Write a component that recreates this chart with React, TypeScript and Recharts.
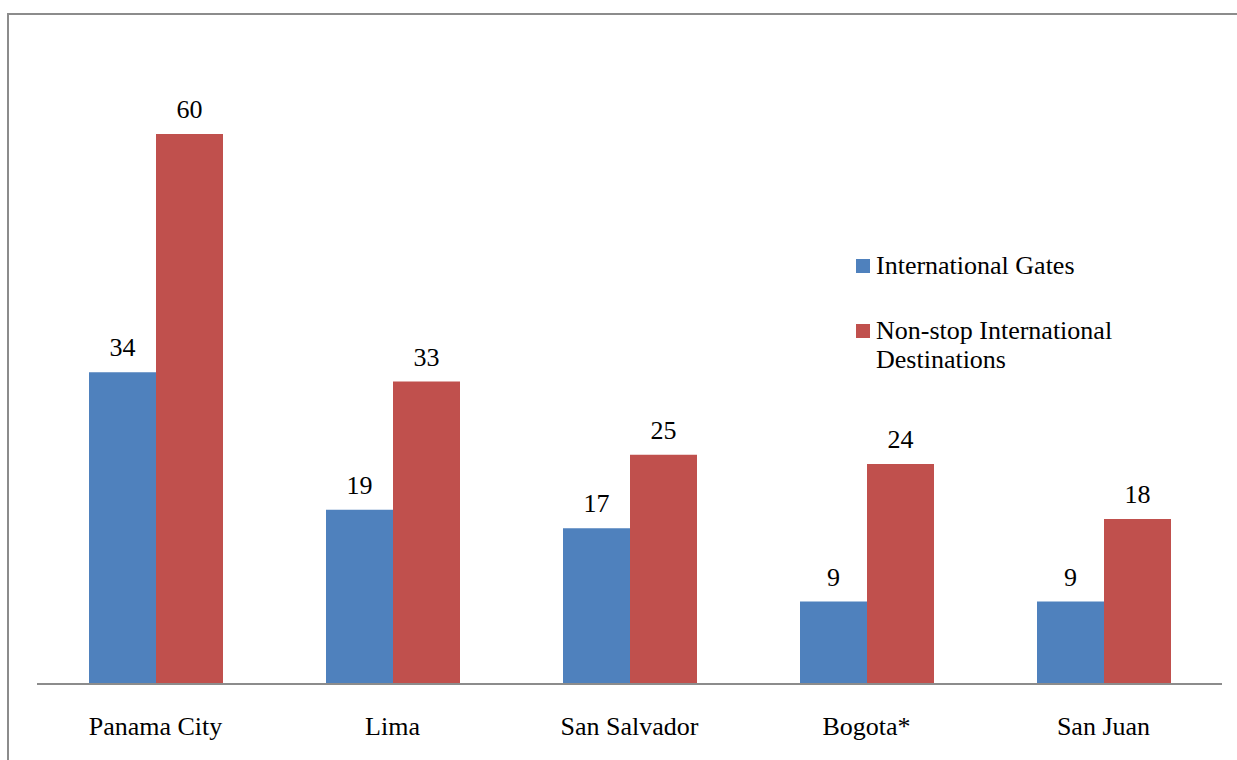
import { BarChart, Bar, XAxis, YAxis, LabelList } from 'recharts';

const CITIES = ['Panama City', 'Lima', 'San Salvador', 'Bogota*', 'San Juan'];
const GATES = [34, 19, 17, 9, 9];
const DESTINATIONS = [60, 33, 25, 24, 18];

const SERIES = [
  { key: 'gates', name: 'International Gates', color: '#4F81BD' },
  { key: 'destinations', name: 'Non-stop International Destinations', color: '#C0504D' },
];

const data = CITIES.map((city, i) => ({ city, gates: GATES[i], destinations: DESTINATIONS[i] }));

const FONT = '"Liberation Serif", "Times New Roman", serif';

// legend sits inside the plot area, so it is laid out by hand instead of reserving chart space
function ChartLegend() {
  return (
    <div style={{ position: 'absolute', left: 856, top: 251, width: 300, fontFamily: FONT, fontSize: 26, color: '#000' }}>
      {SERIES.map((s, i) => (
        <div key={s.key} style={{ display: 'flex', alignItems: 'flex-start', marginBottom: i === 0 ? 36 : 0, lineHeight: '29px' }}>
          <span style={{ display: 'inline-block', width: 14, height: 14, background: s.color, marginTop: 8, marginRight: 6, flexShrink: 0 }} />
          <span style={{ width: 250 }}>{s.name}</span>
        </div>
      ))}
    </div>
  );
}

export default function App() {
  return (
    <div style={{ position: 'absolute', left: 0, top: 0, width: 1237, height: 760, overflow: 'hidden', background: '#fff' }}>
      <div style={{ position: 'absolute', left: 7, top: 13, width: 1300, height: 800, border: '2px solid #8c8c8c', boxSizing: 'border-box' }} />
      <div style={{ position: 'absolute', left: 0, top: 0 }}>
        <BarChart width={1237} height={760} data={data} margin={{ top: 134, right: 15, bottom: 36, left: 37 }} barGap={0} barSize={67}>
          <XAxis
            dataKey="city"
            height={40}
            axisLine={{ stroke: '#8c8c8c', strokeWidth: 2 }}
            tickLine={false}
            tickMargin={27}
            tick={{ fill: '#000', fontSize: 26, fontFamily: FONT }}
            interval={0}
          />
          <YAxis hide domain={[0, 60]} />
          {SERIES.map((s) => (
            <Bar key={s.key} dataKey={s.key} name={s.name} fill={s.color} isAnimationActive={false}>
              <LabelList dataKey={s.key} position="top" offset={16} fill="#000" fontSize={26} fontFamily={FONT} />
            </Bar>
          ))}
        </BarChart>
      </div>
      <ChartLegend />
    </div>
  );
}
